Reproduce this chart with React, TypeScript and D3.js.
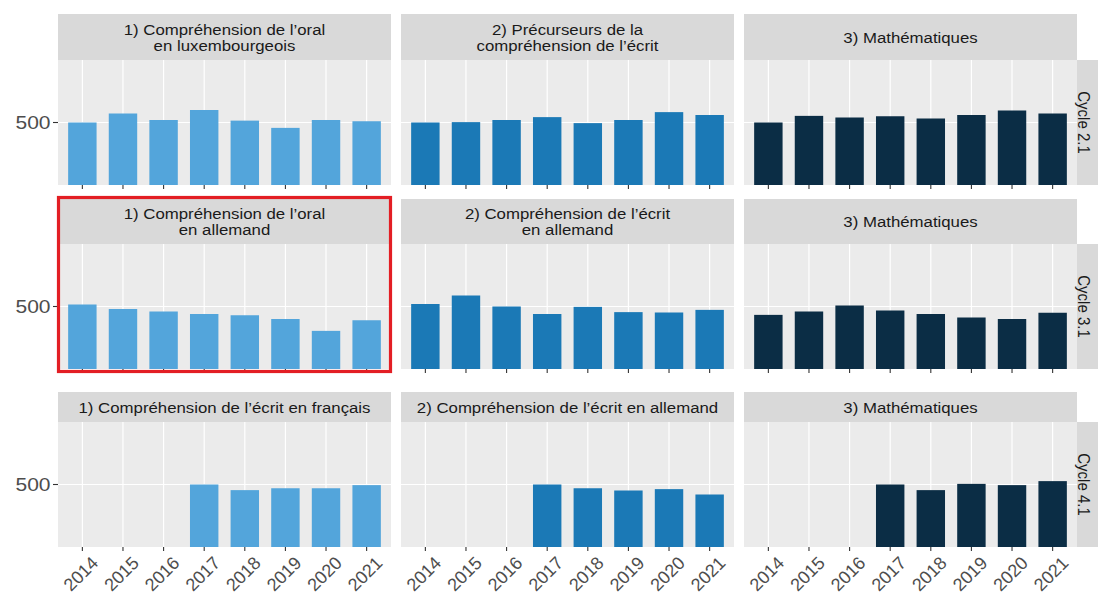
import React from "react";
import * as d3 from "d3";

const years = ["2014", "2015", "2016", "2017", "2018", "2019", "2020", "2021"];
const rowLabels = ["Cycle 2.1", "Cycle 3.1", "Cycle 4.1"];
const stripTitles = [
  [["1) Compréhension de l’oral", "en luxembourgeois"], ["2) Précurseurs de la", "compréhension de l’écrit"], ["3) Mathématiques"]],
  [["1) Compréhension de l’oral", "en allemand"], ["2) Compréhension de l’écrit", "en allemand"], ["3) Mathématiques"]],
  [["1) Compréhension de l’écrit en français"], ["2) Compréhension de l’écrit en allemand"], ["3) Mathématiques"]],
];

// values per row (cycle) and column (domain)
const cycle21Oral = [500, 507.2, 502, 510, 501.5, 495.7, 502, 501];
const cycle21Prec = [500, 500.3, 502, 504.3, 499.5, 502, 508.3, 506];
const cycle21Math = [500, 505.3, 504, 505, 503.2, 506, 509.6, 507.2];
const cycle31Oral = [501.6, 498, 496, 494, 493, 490, 480.5, 489];
const cycle31Ecrit = [502, 508.8, 500, 494, 499.7, 495.5, 495.2, 497.3];
const cycle31Math = [493.3, 496, 500.8, 496.8, 494, 491.2, 490, 495];
const cycle41Fr = [null, null, null, 500, 495.5, 497, 497, 499.5];
const cycle41All = [null, null, null, 500, 497, 495.2, 496.3, 492];
const cycle41Math = [null, null, null, 500, 495.5, 500.5, 499.5, 502.7];

const yTicks = [500];
const yDomain: [number, number] = [450, 550];

const grid: (number | null)[][][] = [
  [cycle21Oral, cycle21Prec, cycle21Math],
  [cycle31Oral, cycle31Ecrit, cycle31Math],
  [cycle41Fr, cycle41All, cycle41Math],
];

const colColors = ["#53A5DB", "#1B79B6", "#0B2D45"];

const W = 1098, H = 595;
const colX = [58, 401, 744];
const panelW = 333;
const panelH = 125;
const stripTop = [14, 199, 392];
const stripH = [46, 45, 30];
const SX = 1.12;
const FONT = "Liberation Sans, Arial, sans-serif";

function SText({ x, y, size, anchor = "middle", fill = "#1a1a1a", rot = 0, children, sx = SX, baseline = "central" }: any) {
  return (
    <text
      transform={`translate(${x},${y}) scale(${sx},1) rotate(${rot})`}
      fontSize={size}
      fontFamily={FONT}
      textAnchor={anchor}
      dominantBaseline={baseline}
      fill={fill}
    >
      {children}
    </text>
  );
}

export default function App() {
  // ggplot-like discrete expansion: 0.6 units each side, bar width 0.7
  const x = d3
    .scalePoint<string>()
    .domain(years)
    .range([0, panelW])
    .padding(0.6);
  const unit = x.step();
  const xc = (y: string) => x(y) as number;
  const bw = unit * 0.7;
  const yS = d3.scaleLinear().domain(yDomain).range([panelH, 0]);

  return (
    <svg width={W} height={H} style={{ position: "absolute", left: 0, top: 0, background: "#fff" }}>
      <rect width={W} height={H} fill="#fff" />
      {grid.map((row, ri) => {
        const pTop = stripTop[ri] + stripH[ri];
        return (
          <g key={ri}>
            {row.map((vals, ci) => {
              const px = colX[ci];
              const lines = stripTitles[ri][ci];
              const lh = 16;
              return (
                <g key={ci}>
                  <rect x={px} y={stripTop[ri]} width={panelW} height={stripH[ri]} fill="#D9D9D9" />
                  {lines.map((l, li) => (
                    <SText
                      key={li}
                      x={px + panelW / 2}
                      y={stripTop[ri] + stripH[ri] / 2 + (li - (lines.length - 1) / 2) * lh + 0.5}
                      size={15}
                    >
                      {l}
                    </SText>
                  ))}
                  <g transform={`translate(${px},${pTop})`}>
                    <rect width={panelW} height={panelH} fill="#EBEBEB" />
                    {years.map((yr) => (
                      <line key={yr} x1={xc(yr)} x2={xc(yr)} y1={0} y2={panelH} stroke="#fff" strokeWidth={1.2} />
                    ))}
                    {yTicks.map((t) => (
                      <line key={t} x1={0} x2={panelW} y1={yS(t)} y2={yS(t)} stroke="#fff" strokeWidth={1.2} />
                    ))}
                    {vals.map((v, i) =>
                      v == null ? null : (
                        <rect
                          key={i}
                          x={xc(years[i]) - bw / 2}
                          y={yS(v)}
                          width={bw}
                          height={panelH - yS(v)}
                          fill={colColors[ci]}
                        />
                      )
                    )}
                    {years.map((yr) => (
                      <line key={yr} x1={xc(yr)} x2={xc(yr)} y1={panelH} y2={panelH + 4} stroke="#333" strokeWidth={1.1} />
                    ))}
                    {ri === 2 &&
                      years.map((yr) => (
                        <SText key={yr} x={xc(yr) + 8} y={panelH + 8} size={18} anchor="end" rot={-45} sx={1} fill="#4D4D4D" baseline="hanging">
                          {yr}
                        </SText>
                      ))}
                    {ci === 0 &&
                      yTicks.map((t) => (
                        <g key={t}>
                          <line x1={-5} x2={0} y1={yS(t)} y2={yS(t)} stroke="#333" strokeWidth={1.1} />
                          <SText x={-7.5} y={yS(t) + 0.5} size={17.5} anchor="end" sx={1.2} fill="#4D4D4D">
                            {t}
                          </SText>
                        </g>
                      ))}
                  </g>
                </g>
              );
            })}
            <rect x={colX[2] + panelW} y={pTop} width={25} height={panelH} fill="#D9D9D9" />
            <SText x={colX[2] + panelW + 7} y={pTop + panelH / 2} size={15} rot={90} sx={1.1}>
              {rowLabels[ri]}
            </SText>
          </g>
        );
      })}
      <rect x={colX[0] + 0.5} y={197.5} width={panelW - 1} height={174} fill="none" stroke="#E31E24" strokeWidth={3.2} />
    </svg>
  );
}
